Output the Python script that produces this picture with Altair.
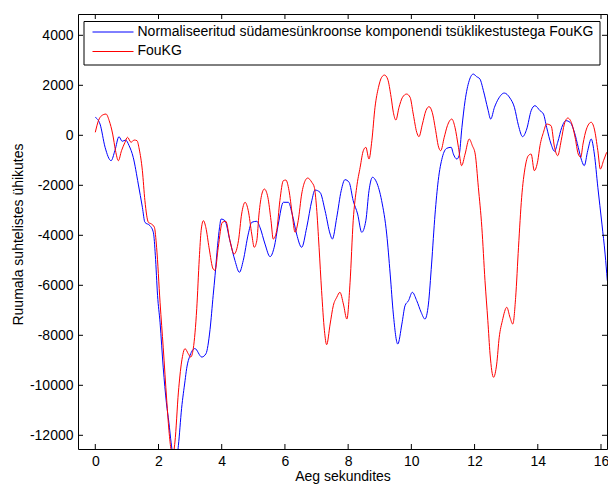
import altair as alt
import pandas as pd

# ---------------- data ----------------
series_names = [
    "Normaliseeritud südamesünkroonse komponendi tsüklikestustega FouKG",
    "FouKG",
]
x_ticks = [0, 2, 4, 6, 8, 10, 12, 14, 16]
y_ticks = [-12000, -10000, -8000, -6000, -4000, -2000, 0, 2000, 4000]

t_blue = [0.0, 0.15, 0.31, 0.5, 0.62, 0.75, 0.85, 0.96, 1.07, 1.2, 1.36, 1.49, 1.57,
          1.73, 1.84, 1.9, 1.97, 2.05, 2.15, 2.25, 2.33, 2.4, 2.5, 2.57, 2.63, 2.73,
          2.84, 2.89, 3.0, 3.15, 3.37, 3.5, 3.63, 3.73, 3.79, 3.87, 3.93, 3.98, 4.1,
          4.26, 4.42, 4.56, 4.68, 4.84, 4.95, 5.11, 5.21, 5.37, 5.53, 5.66, 5.79, 5.95,
          6.11, 6.23, 6.37, 6.53, 6.69, 6.85, 6.95, 7.11, 7.27, 7.43, 7.5, 7.64, 7.78,
          7.9, 8.03, 8.16, 8.3, 8.43, 8.56, 8.66, 8.77, 8.9, 9.06, 9.22, 9.33, 9.43,
          9.57, 9.7, 9.8, 9.91, 10.03, 10.17, 10.31, 10.43, 10.54, 10.64, 10.75, 10.85,
          10.98, 11.12, 11.26, 11.33, 11.44, 11.51, 11.6, 11.7, 11.83, 11.96, 12.06,
          12.17, 12.28, 12.42, 12.51, 12.63, 12.75, 12.94, 13.12, 13.26, 13.39, 13.52,
          13.65, 13.79, 13.91, 14.07, 14.18, 14.28, 14.42, 14.53, 14.63, 14.76, 14.89,
          15.02, 15.16, 15.28, 15.39, 15.47, 15.58, 15.69, 15.79, 15.9, 16.03, 16.13,
          16.2]
v_blue = [720, 450, -480, -1015, -615, -55, -240, -190, -415, -880, -1950, -2880, -3480,
          -3615, -3900, -4800, -6400, -7500, -9300, -10700, -11500, -12300, -13000, -13000,
          -12400, -10935, -9815, -9335, -8800, -8530, -8870, -8740, -7775, -6400, -5600,
          -4400, -3700, -3350, -3415, -4215, -5015, -5480, -5015, -3950, -3480, -3440,
          -3680, -4350, -4855, -4480, -3550, -2680, -2680, -3150, -3950, -4480, -3680,
          -2615, -2190, -2280, -3015, -3950, -4150, -3280, -2215, -1775, -1880, -2615,
          -3150, -3880, -3415, -2215, -1680, -1880, -2615, -3950, -5550, -7150, -8350,
          -7550, -6815, -6615, -6280, -6615, -7080, -7350, -6750, -5150, -3150, -1815,
          -880, -520, -480, -750, -950, -815, 320, 1385, 2185, 2450, 2350, 2250, 1785,
          1050, 650, 1120, 1450, 1690, 1490, 1120, 385, -55, 250, 985, 1185, 985, 850,
          320, -350, -640, -280, 320, 585, 520, 120, -480, -1015, -1215, -615, -150,
          -750, -2080, -3550, -4750, -5815]

t_red = [0.0, 0.1, 0.2, 0.34, 0.44, 0.55, 0.64, 0.73, 0.83, 0.94, 1.02, 1.13, 1.23, 1.32,
         1.39, 1.49, 1.57, 1.68, 1.78, 1.87, 1.94, 2.05, 2.15, 2.26, 2.33, 2.4, 2.45, 2.52,
         2.63, 2.73, 2.84, 2.94, 3.02, 3.1, 3.21, 3.29, 3.35, 3.42, 3.5, 3.6, 3.73, 3.79,
         3.89, 4.02, 4.13, 4.26, 4.39, 4.53, 4.63, 4.74, 4.84, 4.95, 5.03, 5.11, 5.18,
         5.27, 5.35, 5.46, 5.56, 5.63, 5.74, 5.84, 5.95, 6.03, 6.13, 6.23, 6.32, 6.42,
         6.53, 6.64, 6.72, 6.85, 6.93, 7.0, 7.08, 7.16, 7.25, 7.32, 7.43, 7.53, 7.64,
         7.74, 7.85, 7.96, 8.06, 8.16, 8.27, 8.38, 8.48, 8.56, 8.66, 8.75, 8.85, 8.96,
         9.06, 9.15, 9.25, 9.36, 9.43, 9.51, 9.61, 9.72, 9.85, 9.96, 10.06, 10.17, 10.24,
         10.35, 10.46, 10.56, 10.66, 10.77, 10.85, 10.93, 11.04, 11.14, 11.28, 11.38,
         11.49, 11.59, 11.7, 11.83, 11.93, 12.02, 12.12, 12.23, 12.33, 12.42, 12.49,
         12.6, 12.7, 12.78, 12.88, 13.02, 13.12, 13.21, 13.3, 13.39, 13.49, 13.6, 13.7,
         13.79, 13.89, 14.0, 14.07, 14.18, 14.28, 14.42, 14.53, 14.63, 14.74, 14.84,
         14.95, 15.08, 15.18, 15.28, 15.36, 15.43, 15.54, 15.69, 15.79, 15.9, 15.98,
         16.08, 16.18]
v_red = [120, 585, 785, 850, 585, 50, -615, -1015, -615, -280, -80, -280, -190, -215,
         -550, -1415, -2615, -3480, -3550, -3680, -4480, -6700, -8500, -10600, -11800,
         -12600, -12800, -12270, -10270, -9070, -8535, -8735, -8870, -8535, -6935, -4935,
         -3800, -3415, -3700, -4500, -5350, -5400, -4480, -3480, -3440, -4215, -4750,
         -4215, -3150, -2680, -3015, -3950, -4480, -4215, -3150, -2350, -2150, -2480,
         -3415, -4150, -3815, -2615, -1815, -1790, -2215, -3150, -3880, -3415, -2350,
         -1815, -1710, -1880, -2080, -2880, -4480, -6215, -7815, -8375, -7550, -6815,
         -6480, -6280, -6750, -7350, -5900, -3415, -2080, -1280, -615, -480, -950, -215,
         1120, 1920, 2320, 2410, 2250, 1520, 920, 610, 1120, 1520, 1650, 1520, 850, 120,
         -55, 450, 985, 1145, 920, 185, -415, -615, -80, 385, 650, 320, -480, -1215,
         -750, -150, -415, -750, -2080, -3680, -5815, -7415, -8750, -9680, -9150, -8080,
         -7415, -6880, -7280, -7550, -6480, -4480, -2480, -1280, -815, -750, -1415,
         -1015, -415, 120, 450, 385, -480, -815, -215, 450, 690, 450, -80, -750, -880,
         -350, 250, 520, 250, -615, -1350, -1015, -680]

# ---------------- layout ----------------
W, H = 529, 435
FONT = "Liberation Sans"
FS = 14
BLUE, RED = "#0000ff", "#ff0000"

xs = alt.Scale(domain=[-0.547, 16.19], nice=False, zero=False)
ys = alt.Scale(domain=[-12548, 4852], nice=False, zero=False)

x_axis = alt.Axis(values=x_ticks, title="Aeg sekundites", grid=False, domain=False,
                  ticks=False, tickSize=0, labelPadding=16.5, labelBaseline="alphabetic",
                  labelExpr="datum.value + ''", labelFlush=False, labelOverlap=False,
                  labelFont=FONT, labelFontSize=FS, labelColor="black",
                  titleFont=FONT, titleFontSize=FS, titleFontWeight="normal",
                  titleColor="black", titleX=W / 2, titleY=31.5, titleAlign="center",
                  titleBaseline="alphabetic")
y_axis = alt.Axis(values=y_ticks, title="Ruumala suhtelistes ühikutes", grid=False,
                  domain=False, ticks=False, tickSize=0, labelPadding=5,
                  labelExpr="datum.value + ''", labelFlush=False, labelOverlap=False,
                  labelFont=FONT, labelFontSize=FS, labelColor="black",
                  titleFont=FONT, titleFontSize=FS, titleFontWeight="normal",
                  titleColor="black", titleAngle=270, titleX=-56, titleY=220,
                  titleAlign="center", titleBaseline="alphabetic")

df_blue = pd.DataFrame({"t": t_blue, "v": v_blue})
df_red = pd.DataFrame({"t": t_red, "v": v_red})


def series_line(df, color):
    return alt.Chart(df).mark_line(color=color, strokeWidth=1, clip=True,
                                   interpolate="monotone").encode(
        x=alt.X("t:Q", scale=xs, axis=x_axis),
        y=alt.Y("v:Q", scale=ys, axis=y_axis),
    )


blue = series_line(df_blue, BLUE)
red = series_line(df_red, RED)

TL = 5
xt_df = pd.DataFrame({"t": x_ticks})
yt_df = pd.DataFrame({"v": y_ticks})
tick_bottom = alt.Chart(xt_df).mark_rule(color="black", strokeWidth=1).encode(
    x=alt.X("t:Q", scale=xs, axis=x_axis), y=alt.value(H), y2=alt.value(H - TL))
tick_top = alt.Chart(xt_df).mark_rule(color="black", strokeWidth=1).encode(
    x=alt.X("t:Q", scale=xs, axis=x_axis), y=alt.value(0), y2=alt.value(TL))
tick_left = alt.Chart(yt_df).mark_rule(color="black", strokeWidth=1).encode(
    y=alt.Y("v:Q", scale=ys, axis=y_axis), x=alt.value(0), x2=alt.value(TL))
tick_right = alt.Chart(yt_df).mark_rule(color="black", strokeWidth=1).encode(
    y=alt.Y("v:Q", scale=ys, axis=y_axis), x=alt.value(W), x2=alt.value(W - TL))

# ---------------- legend (MATLAB style box) ----------------
one = pd.DataFrame({"k": [0]})
leg_box = alt.Chart(one).mark_rect(fill="white", stroke="black", strokeWidth=1).encode(
    x=alt.value(6), x2=alt.value(522), y=alt.value(7.5), y2=alt.value(51))
leg_layers = [leg_box]
for i, (name, col) in enumerate(zip(series_names, [BLUE, RED])):
    yc = 18 + i * 19.5
    leg_layers.append(alt.Chart(one).mark_rule(color=col, strokeWidth=1).encode(
        x=alt.value(14.5), x2=alt.value(55.5), y=alt.value(yc)))
    leg_layers.append(alt.Chart(one).mark_text(
        align="left", baseline="alphabetic", font=FONT, fontSize=FS, color="black").encode(
        x=alt.value(59.5), y=alt.value(yc + 3.5), text=alt.value(name)))

chart = alt.layer(blue, red, tick_bottom, tick_top, tick_left, tick_right,
                  *leg_layers).properties(
    width=W, height=H,
    autosize=alt.AutoSizeParams(type="none"),
    padding={"left": 78, "top": 14, "right": 1, "bottom": 36},
    background="white",
).configure_view(stroke="black", strokeWidth=1)

chart.save("out.html", embed_options={"renderer": "svg", "actions": False})
